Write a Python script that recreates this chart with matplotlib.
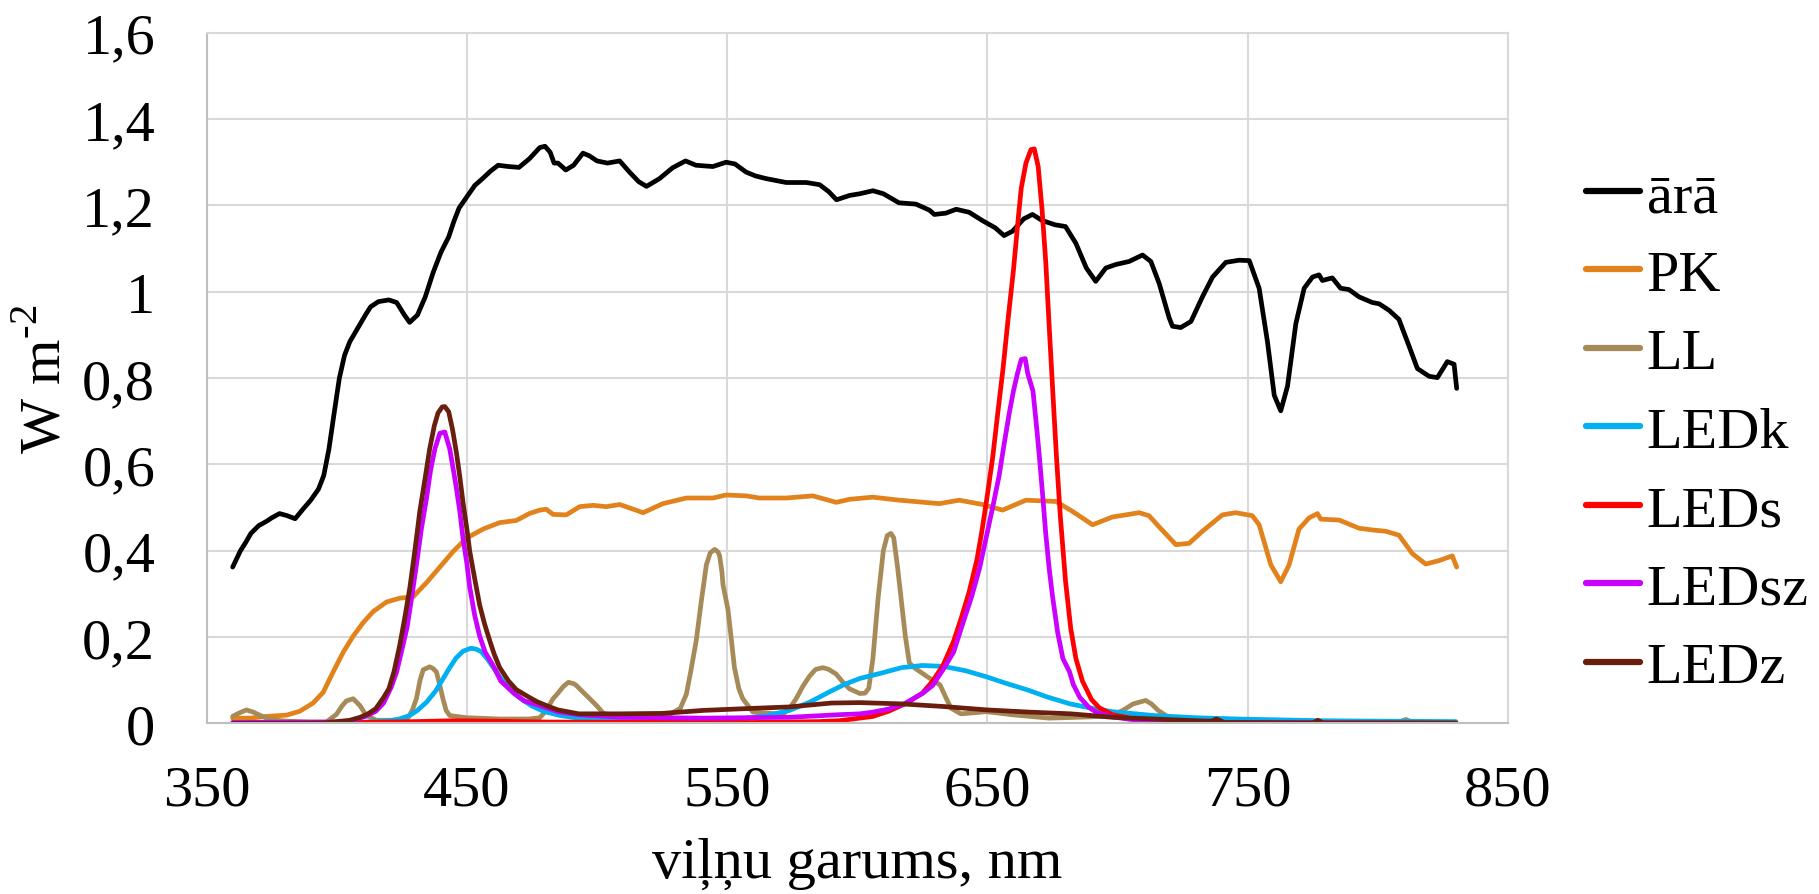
import matplotlib
matplotlib.use('Agg')
import matplotlib.pyplot as plt
from matplotlib.ticker import FuncFormatter, MultipleLocator

plt.rcParams['font.family'] = ['Liberation Serif', 'DejaVu Serif']
plt.rcParams['mathtext.fontset'] = 'custom'
plt.rcParams['mathtext.rm'] = 'Liberation Serif'

# ārā (outdoor sunlight)
ara_x = [360, 363, 365, 367, 370, 373, 375, 378, 381, 384, 387, 390, 393, 395, 397, 399, 401, 403, 405, 408,
         411, 413, 416, 420, 423, 426, 428, 431, 434, 437, 440, 443, 445, 447, 450, 453, 456, 459, 462, 466,
         470, 474, 478, 480, 482, 483.5, 485, 488, 491, 494.6, 497, 500, 504, 508.7, 512.5, 516, 519, 524, 529, 534,
         538, 544.5, 549.6, 553, 557.3, 561, 565, 572.7, 580.4, 585.5, 589, 592, 597, 601, 606, 610, 616, 622.5, 627.7, 629.6,
         634, 638, 643, 648, 653, 656.4, 659.6, 664, 667.3, 671, 676, 680, 684, 688, 691.6, 695.5, 699.3, 704.4, 709.6, 712.8,
         716, 719.8, 721.1, 724.3, 728.2, 732.6, 736.5, 741.6, 746.7, 750.6, 754.4, 757.6, 760.2, 762.7, 765.3, 768.5, 771.7, 774.9, 777.4, 778.7,
         782.5, 785.7, 788.9, 792.8, 797.9, 800.5, 804.3, 808.1, 812, 815.2, 819.7, 822.9, 826.7, 829.3, 830.3]
ara_y = [0.362, 0.40, 0.419, 0.44, 0.458, 0.468, 0.476, 0.486, 0.481, 0.474, 0.496, 0.517, 0.543, 0.574, 0.636, 0.719, 0.80, 0.853, 0.884, 0.915,
         0.946, 0.965, 0.977, 0.981, 0.975, 0.946, 0.929, 0.946, 0.988, 1.044, 1.091, 1.127, 1.163, 1.194, 1.22, 1.246, 1.262, 1.279, 1.293, 1.29,
         1.288, 1.308, 1.334, 1.337, 1.323, 1.298, 1.298, 1.282, 1.293, 1.321, 1.315, 1.303, 1.298, 1.303, 1.277, 1.255, 1.244, 1.262, 1.287, 1.303,
         1.293, 1.29, 1.30, 1.296, 1.277, 1.268, 1.262, 1.253, 1.253, 1.248, 1.232, 1.213, 1.223, 1.227, 1.234, 1.227, 1.206, 1.203, 1.189, 1.179,
         1.182, 1.191, 1.184, 1.165, 1.148, 1.13, 1.14, 1.169, 1.179, 1.165, 1.155, 1.151, 1.112, 1.055, 1.024, 1.055, 1.063, 1.07, 1.085, 1.07,
         1.019, 0.94, 0.92, 0.917, 0.931, 0.988, 1.034, 1.068, 1.073, 1.072, 1.008, 0.884, 0.76, 0.724, 0.781, 0.926, 1.008, 1.034, 1.039, 1.026,
         1.032, 1.008, 1.005, 0.988, 0.975, 0.972, 0.957, 0.936, 0.874, 0.822, 0.804, 0.801, 0.838, 0.832, 0.776]

# PK
pk_x = [360, 366.6, 373, 380.7, 385.8, 390.9, 394.8, 398.6, 402.5, 406.3, 410.1, 414, 419.1, 424.2, 429.3, 434.5, 439.6, 444.7, 449.8, 456.2,
        462.6, 469, 474, 478, 480.5, 483.1, 488.2, 493.3, 498.5, 503.6, 508.7, 513, 517.7, 525.3, 534.3, 544.5, 549.6, 557.3, 562.4, 572.7,
        582.9, 591.9, 597, 605.9, 616.1, 631.5, 639.2, 648.1, 655.8, 664.8, 676.3, 682.7, 690.4, 698, 708.3, 712.1, 716, 722.4, 727.5, 732.6,
        740.3, 745.4, 751.8, 754.4, 758.9, 762.7, 765.9, 769.7, 773.6, 776.8, 778.1, 785.1, 792.8, 797.9, 803, 808.1, 813.3, 818.4, 823.5, 828.6, 830.3]
pk_y = [0.012, 0.012, 0.016, 0.019, 0.028, 0.047, 0.072, 0.119, 0.165, 0.202, 0.233, 0.259, 0.281, 0.29, 0.293, 0.326, 0.362, 0.398, 0.429, 0.45,
        0.465, 0.47, 0.486, 0.494, 0.496, 0.484, 0.483, 0.502, 0.505, 0.502, 0.507, 0.498, 0.488, 0.509, 0.522, 0.522, 0.529, 0.527, 0.522, 0.522,
        0.527, 0.512, 0.519, 0.524, 0.517, 0.509, 0.517, 0.507, 0.494, 0.517, 0.514, 0.491, 0.46, 0.478, 0.488, 0.481, 0.455, 0.414, 0.417, 0.445,
        0.483, 0.488, 0.481, 0.46, 0.367, 0.328, 0.367, 0.45, 0.476, 0.486, 0.473, 0.471, 0.452, 0.448, 0.445, 0.436, 0.393, 0.369, 0.377, 0.388, 0.362]

# LL
ll_x = [360, 362.5, 365.3, 367.9, 370, 373, 377, 380.7, 390, 396, 399.9, 402, 403.7, 406.3, 408.9, 411.4, 415.3, 426.8, 429, 430.6,
        432, 433.2, 435.7, 437, 438.3, 439.5, 440.8, 442, 443.4, 449.8, 462.6, 474, 478, 480.5, 483.1, 485, 487, 489, 491, 492,
        494.5, 497.2, 500, 502.3, 505, 508.7, 528, 532, 534.3, 536, 538.1, 540, 542, 543.5, 545.2, 546.5, 547.1, 548, 548.4, 550.3,
        551.5, 552.8, 554.5, 556, 559.9, 571.4, 574, 576.5, 579, 581.6, 584, 586.8, 589, 591.9, 594.5, 597, 601, 603, 604.4, 606,
        608, 610, 611.5, 612.9, 614, 615.5, 617, 618.5, 620, 622.1, 624.5, 626.9, 629, 631.8, 634, 636, 639.8, 644, 649.5, 654,
        659.2, 673.7, 690, 697.9, 702, 706, 710.8, 713, 715.6, 720.5, 740, 770, 800, 808, 810.8, 813, 830]
ll_y = [0.016, 0.024, 0.031, 0.026, 0.02, 0.012, 0.007, 0.005, 0.003, 0.003, 0.021, 0.04, 0.052, 0.057, 0.041, 0.018, 0.007, 0.007, 0.03, 0.057,
        0.1, 0.124, 0.131, 0.127, 0.119, 0.09, 0.057, 0.03, 0.018, 0.013, 0.01, 0.01, 0.013, 0.03, 0.057, 0.07, 0.085, 0.095, 0.092, 0.088,
        0.073, 0.057, 0.04, 0.024, 0.018, 0.016, 0.021, 0.035, 0.067, 0.12, 0.191, 0.28, 0.367, 0.395, 0.403, 0.397, 0.388, 0.35, 0.321, 0.264,
        0.2, 0.129, 0.08, 0.057, 0.026, 0.021, 0.035, 0.057, 0.085, 0.109, 0.125, 0.129, 0.125, 0.114, 0.095, 0.08, 0.069, 0.07, 0.081, 0.15,
        0.29, 0.4, 0.435, 0.44, 0.43, 0.36, 0.28, 0.2, 0.14, 0.128, 0.118, 0.108, 0.1, 0.089, 0.06, 0.035, 0.022, 0.024, 0.027, 0.024,
        0.02, 0.012, 0.015, 0.018, 0.03, 0.045, 0.053, 0.045, 0.03, 0.01, 0.006, 0.004, 0.003, 0.003, 0.009, 0.003, 0.002]

# LEDk
ledk_x = [360, 400, 408.6, 414, 420, 424, 428, 431, 434.5, 438, 440.9, 443.5, 445.8, 448.5, 451.5, 453.5, 455.5, 458, 460.4, 463,
          465.2, 468, 471.7, 475, 479.8, 486, 492.7, 508.9, 525, 541.3, 555, 565.5, 574, 581.7, 590, 595, 601, 609, 617, 625,
          633, 641.5, 649.5, 657, 665.6, 673, 681.8, 690, 698, 714, 730, 746, 762, 778.5, 800, 830]
ledk_y = [0.0, 0.001, 0.002, 0.004, 0.006, 0.01, 0.018, 0.03, 0.049, 0.075, 0.104, 0.13, 0.151, 0.167, 0.174, 0.172, 0.166, 0.148, 0.127, 0.105,
          0.088, 0.07, 0.053, 0.04, 0.027, 0.018, 0.012, 0.006, 0.005, 0.006, 0.01, 0.018, 0.03, 0.049, 0.075, 0.09, 0.104, 0.116, 0.129, 0.134,
          0.132, 0.122, 0.108, 0.093, 0.077, 0.061, 0.045, 0.035, 0.027, 0.018, 0.013, 0.01, 0.008, 0.006, 0.005, 0.004]

# LEDs
leds_x = [360, 400, 430, 445, 460, 480, 520, 560, 585, 593, 606, 612, 619, 625, 629, 633, 637, 640, 643, 646,
          648, 650, 652, 654, 656, 658, 660, 662, 663, 664.8, 666.7, 668, 669.5, 671, 672.4, 674, 675, 676.5, 678, 680,
          682, 684, 686.5, 690, 693, 698, 705, 715, 730, 745, 830]
leds_y = [0.0, 0.001, 0.004, 0.006, 0.005, 0.003, 0.002, 0.002, 0.004, 0.006, 0.016, 0.028, 0.047, 0.07, 0.098, 0.135, 0.19, 0.245, 0.305, 0.38,
          0.45, 0.53, 0.615, 0.72, 0.822, 0.94, 1.05, 1.18, 1.24, 1.298, 1.329, 1.331, 1.29, 1.19, 1.07, 0.89, 0.781, 0.62, 0.48, 0.33,
          0.22, 0.15, 0.098, 0.055, 0.036, 0.02, 0.012, 0.007, 0.003, 0.001, 0.0]

# LEDsz
ledsz_x = [360, 400, 405, 411, 415, 418, 421, 423, 425, 427, 429, 430.6, 432.5, 434.5, 436, 437.7, 439.6, 441.5, 443.4, 445,
           446, 447.3, 448.5, 450, 451.1, 453, 454.9, 457, 460, 463, 468, 472, 477, 485, 493, 509, 541, 574, 593, 601,
           606, 612, 618, 625, 629, 633, 637, 641, 644, 647, 649.5, 652, 654.5, 656.5, 658.4, 660, 661.6, 663, 664.5, 665.5,
           666.5, 667.5, 669, 670, 671.2, 672.4, 673.7, 675, 677, 679, 681.5, 683, 685.5, 689, 692, 698, 705, 715, 730, 830]
ledsz_y = [0.002, 0.003, 0.005, 0.016, 0.028, 0.047, 0.085, 0.119, 0.17, 0.222, 0.3, 0.367, 0.45, 0.522, 0.585, 0.636, 0.672, 0.675, 0.636, 0.58,
           0.543, 0.49, 0.429, 0.37, 0.315, 0.25, 0.202, 0.165, 0.135, 0.098, 0.07, 0.052, 0.043, 0.027, 0.02, 0.014, 0.012, 0.014, 0.02, 0.022,
           0.026, 0.033, 0.045, 0.069, 0.088, 0.125, 0.165, 0.24, 0.295, 0.36, 0.43, 0.5, 0.574, 0.65, 0.719, 0.77, 0.812, 0.843, 0.845, 0.81,
           0.79, 0.77, 0.68, 0.615, 0.53, 0.44, 0.36, 0.295, 0.21, 0.15, 0.12, 0.09, 0.06, 0.037, 0.025, 0.015, 0.009, 0.005, 0.002, 0.0]

# LEDz
ledz_x = [360, 380, 395, 405, 409, 412, 415, 418, 420, 422, 424.2, 426, 428.1, 430, 431.9, 434, 435.7, 437.5, 438.9, 440.5,
          441.5, 443, 444.5, 446, 447.3, 448.5, 450, 451.1, 453, 454.9, 456.8, 458.8, 460.5, 462.6, 466, 469, 474, 477, 481, 485,
          493, 509, 525, 541, 557, 574, 590, 601, 617, 633, 650, 666, 682, 698, 714, 730, 736, 738, 741, 775, 777, 779, 830]
ledz_y = [0.0, 0.0, 0.001, 0.007, 0.014, 0.022, 0.034, 0.06, 0.08, 0.12, 0.181, 0.24, 0.315, 0.4, 0.491, 0.57, 0.636, 0.69, 0.719, 0.733,
          0.734, 0.722, 0.68, 0.626, 0.57, 0.512, 0.45, 0.398, 0.335, 0.274, 0.23, 0.191, 0.16, 0.129, 0.098, 0.078, 0.06, 0.05, 0.04, 0.031,
          0.022, 0.022, 0.023, 0.03, 0.034, 0.038, 0.047, 0.048, 0.045, 0.039, 0.031, 0.026, 0.022, 0.014, 0.01, 0.006, 0.005, 0.01, 0.002, 0.001, 0.007, 0.001, 0.001]

series = [
    ('ārā', ara_x, ara_y, '#000000'),
    ('PK', pk_x, pk_y, '#E2821C'),
    ('LL', ll_x, ll_y, '#A68A58'),
    ('LEDk', ledk_x, ledk_y, '#00B0F0'),
    ('LEDs', leds_x, leds_y, '#FF0000'),
    ('LEDsz', ledsz_x, ledsz_y, '#CC00FF'),
    ('LEDz', ledz_x, ledz_y, '#6A1E0E'),
]

x_ticks = [350, 450, 550, 650, 750, 850]
fs = 42

fig = plt.figure(figsize=(18.19, 8.95), dpi=100)
ax = fig.add_axes([0.1136, 0.1907, 0.7154, 0.7716])

for name, x, y, c in series:
    ax.plot(x, y, color=c, lw=3.4, label=name, solid_capstyle='round', solid_joinstyle='round')

ax.set_xlim(350, 850)
ax.set_ylim(0, 1.6)
ax.set_xticks(x_ticks)
ax.yaxis.set_major_locator(MultipleLocator(0.2))

def comma_fmt(v, pos):
    return ('%g' % round(v, 1)).replace('.', ',')

ax.yaxis.set_major_formatter(FuncFormatter(comma_fmt))
ax.grid(True, color='#D9D9D9', lw=1.5)
ax.set_axisbelow(True)
for s in ['top', 'right']:
    ax.spines[s].set_color('#D9D9D9')
    ax.spines[s].set_linewidth(1.5)
for s in ['left', 'bottom']:
    ax.spines[s].set_color('#BFBFBF')
    ax.spines[s].set_linewidth(1.5)

ax.tick_params(axis='both', length=0, labelsize=fs)
ax.tick_params(axis='y', pad=37)
ax.tick_params(axis='x', pad=30)

ax.set_xlabel('viļņu garums, nm', fontsize=fs, labelpad=14)
ax.set_ylabel(r'W m$^{\text{-}2}$', fontsize=fs, labelpad=8)

leg = ax.legend(loc='center left', bbox_to_anchor=(0.872, 0.516), bbox_transform=fig.transFigure,
                frameon=False, fontsize=fs, handlelength=0.92, handletextpad=0.12,
                labelspacing=0.44, borderpad=0, borderaxespad=0)
for h in leg.get_lines():
    h.set_linewidth(4.5)

fig.savefig('out.png', dpi=100)
